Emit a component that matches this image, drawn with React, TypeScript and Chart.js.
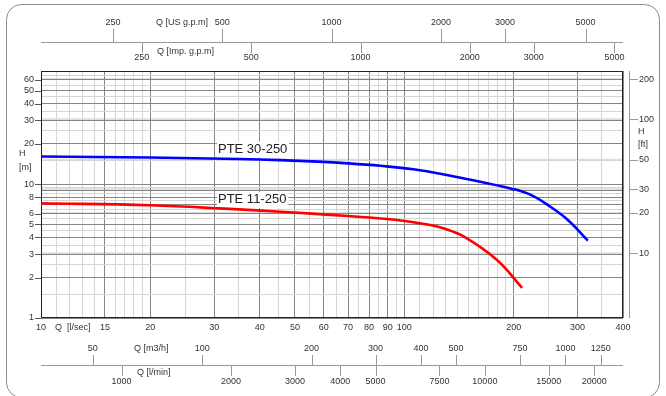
import React, { useEffect, useRef } from 'react';
import { Chart, registerables } from 'chart.js';
Chart.register(...registerables);

// ---- data (flow in l/s, head in m) ----
const seriesNames = ['PTE 30-250', 'PTE 11-250'];
const flowBlue = [10, 20, 35, 45.5, 58, 70, 86, 106, 131, 162, 200, 223, 248, 282, 320];
const headBlue = [16.1, 15.8, 15.4, 15.1, 14.72, 14.3, 13.7, 12.9, 11.7, 10.4, 9.17, 8.31, 7.0, 5.4, 3.78];
const flowRed = [10, 20, 33, 47, 62.5, 78, 95.5, 118, 128, 146, 180, 211];
const headRed = [7.2, 6.96, 6.53, 6.2, 5.89, 5.65, 5.4, 4.95, 4.68, 4.05, 2.71, 1.68];
const labelFlow = [30.7, 30.7];
const labelHead = [18.1, 7.63];

// ---- tick labels ----
const xTickLabels = [10, 15, 20, 30, 40, 50, 60, 70, 80, 90, 100, 200, 300, 400];
const yTickLabels = [1, 2, 3, 4, 5, 6, 8, 10, 20, 30, 40, 50, 60];
const ftTicks = [10, 20, 30, 50, 100, 200];
const usGpmTicks = [250, 500, 1000, 2000, 3000, 5000];
const impGpmTicks = [250, 500, 1000, 2000, 3000, 5000];
const m3hTicks = [50, 100, 200, 300, 400, 500, 750, 1000, 1250];
const lminTicks = [1000, 2000, 3000, 4000, 5000, 7500, 10000, 15000, 20000];

// grid values
const xGrid = [10, 11, 12, 13, 14, 15, 16, 17, 18, 19, 20, 25, 30, 35, 40, 45, 50, 55, 60, 65, 70, 75, 80, 85, 90, 95, 100,
  110, 120, 130, 140, 150, 160, 170, 180, 190, 200, 250, 300, 350, 400];
const xDark = [10, 15, 20, 30, 40, 50, 60, 70, 80, 90, 100, 200, 300, 400];
const yGrid = [1, 1.5, 2, 2.5, 3, 3.5, 4, 4.5, 5, 5.5, 6, 6.5, 7, 7.5, 8, 8.5, 9, 9.5, 10, 15, 20, 25, 30, 35, 40, 45, 50, 55, 60, 65, 70];
const yDark = [1, 2, 3, 4, 5, 6, 7, 8, 9, 10, 20, 30, 40, 50, 60, 70];

const US_GPM = 15.850;
const IMP_GPM = 13.198;
const M3H = 3.6;
const LMIN = 60;
const FT = 3.28084;

const FONT = '"Liberation Sans", Arial, sans-serif';
const TXT = '#333';

const overlay = {
  id: 'overlay',
  beforeDraw(chart: any) {
    const { ctx, chartArea: a, scales } = chart;
    const y = scales.y;
    ctx.save();
    ctx.strokeStyle = '#dedede';
    ctx.lineWidth = 2;
    ftTicks.forEach((f) => {
      const py = y.getPixelForValue(f / FT);
      ctx.beginPath();
      ctx.moveTo(a.left, py);
      ctx.lineTo(a.right, py);
      ctx.stroke();
    });
    ctx.restore();
  },
  beforeDatasetsDraw(chart: any) {
    const { ctx, chartArea: a, scales } = chart;
    const x = scales.x;
    const y = scales.y;
    ctx.save();
    const L = Math.round(a.left) + 0.5;
    const R = Math.round(a.right) - 0.5;
    const T = Math.round(a.top) + 0.5;
    const B = Math.round(a.bottom) - 0.5;

    // outer rounded frame (bottom edge falls just outside the picture)
    ctx.strokeStyle = '#8c8c8c';
    ctx.lineWidth = 1;
    ctx.beginPath();
    (ctx as any).roundRect(6.5, 4.5, 653, 393, 15);
    ctx.stroke();

    // plot border
    ctx.strokeStyle = '#222';
    ctx.lineWidth = 1;
    ctx.strokeRect(L, T, R - L, B - T);

    ctx.font = `9px ${FONT}`;
    ctx.fillStyle = TXT;
    ctx.textBaseline = 'middle';

    const vline = (px: number, y1: number, y2: number, color = '#777') => {
      ctx.strokeStyle = color;
      ctx.beginPath();
      ctx.moveTo(Math.round(px) + 0.5, y1);
      ctx.lineTo(Math.round(px) + 0.5, y2);
      ctx.stroke();
    };
    const hline = (py: number, x1: number, x2: number, color = '#777') => {
      ctx.strokeStyle = color;
      ctx.beginPath();
      ctx.moveTo(x1, Math.round(py) + 0.5);
      ctx.lineTo(x2, Math.round(py) + 0.5);
      ctx.stroke();
    };

    // bottom main labels
    ctx.textAlign = 'center';
    xTickLabels.forEach((v) => ctx.fillText(String(v), x.getPixelForValue(v), 328));
    ctx.textAlign = 'left';
    ctx.fillText('Q  [l/sec]', a.left + 14, 328);

    // left axis labels
    ctx.textAlign = 'right';
    yTickLabels.forEach((v) => {
      const py = y.getPixelForValue(v);
      ctx.fillText(String(v), a.left - 7, py);
      hline(py, a.left - 6, a.left, '#555');
    });
    ctx.textAlign = 'left';
    ctx.fillText('H', 19, 154);
    ctx.fillText('[m]', 19, 168);

    // right axis (ft)
    const rx = a.right + 6;
    vline(rx, a.top, a.bottom, '#999');
    ftTicks.forEach((f) => {
      const py = y.getPixelForValue(f / FT);
      hline(py, rx, rx + 9, '#999');
      ctx.fillText(String(f), rx + 10, py);
    });
    ctx.fillText('H', rx + 9, 132);
    ctx.fillText('[ft]', rx + 9, 145);

    // top axes
    const topY = 42;
    hline(topY - 0.5, a.left, a.right, '#999');
    ctx.textAlign = 'center';
    usGpmTicks.forEach((v) => {
      const px = x.getPixelForValue(v / US_GPM);
      vline(px, 29, topY, '#999');
      ctx.fillText(String(v), px, 23);
    });
    impGpmTicks.forEach((v) => {
      const px = x.getPixelForValue(v / IMP_GPM);
      vline(px, topY, 53, '#999');
      ctx.fillText(String(v), px, 58);
    });
    ctx.textAlign = 'left';
    ctx.fillText('Q [US g.p.m]', 156, 23);
    ctx.fillText('Q [Imp. g.p.m]', 157, 52);

    // bottom secondary axes
    const botY = 365;
    hline(botY - 0.5, a.left, a.right, '#999');
    ctx.textAlign = 'center';
    m3hTicks.forEach((v) => {
      const px = x.getPixelForValue(v / M3H);
      vline(px, 355, botY, '#999');
      ctx.fillText(String(v), px, 349);
    });
    lminTicks.forEach((v) => {
      const px = x.getPixelForValue(v / LMIN);
      vline(px, botY, 376, '#999');
      ctx.fillText(String(v), px, 382);
    });
    ctx.textAlign = 'left';
    ctx.fillText('Q [m3/h]', 134, 349);
    ctx.fillText('Q [l/min]', 137, 373);

    // series labels with white boxes
    ctx.font = `13px ${FONT}`;
    seriesNames.forEach((name, i) => {
      const px = x.getPixelForValue(labelFlow[i]);
      const py = y.getPixelForValue(labelHead[i]);
      const w = ctx.measureText(name).width;
      ctx.fillStyle = '#fff';
      ctx.fillRect(px - 1, py - 8, w + 3, 16);
      ctx.fillStyle = '#222';
      ctx.fillText(name, px, py);
    });
    ctx.restore();
  },
};

export default function App() {
  const ref = useRef<HTMLCanvasElement>(null);
  useEffect(() => {
    const canvas = ref.current!;
    const chart = new Chart(canvas, {
      type: 'scatter',
      data: {
        datasets: [
          {
            label: seriesNames[0],
            data: flowBlue.map((q, i) => ({ x: q, y: headBlue[i] })),
            showLine: true,
            borderColor: '#0000ff',
            backgroundColor: '#0000ff',
            borderWidth: 2.6,
            pointRadius: 0,
            tension: 0.4,
          },
          {
            label: seriesNames[1],
            data: flowRed.map((q, i) => ({ x: q, y: headRed[i] })),
            showLine: true,
            borderColor: '#ff0000',
            backgroundColor: '#ff0000',
            borderWidth: 2.6,
            pointRadius: 0,
            tension: 0.4,
          },
        ],
      },
      options: {
        responsive: false,
        devicePixelRatio: 1,
        animation: false,
        layout: { padding: { left: 41, right: 43, top: 71, bottom: 78 } },
        plugins: { legend: { display: false }, tooltip: { enabled: false } },
        scales: {
          x: {
            type: 'logarithmic',
            min: 10,
            max: 400,
            afterBuildTicks: (s: any) => {
              s.ticks = xGrid.map((v) => ({ value: v }));
            },
            ticks: { display: false },
            grid: {
              drawTicks: false,
              lineWidth: 1,
              color: (c: any) => (c.tick && xDark.includes(c.tick.value) ? '#858585' : '#d6d6d6'),
            },
            border: { display: false },
          },
          y: {
            type: 'logarithmic',
            min: 1,
            max: 70,
            afterBuildTicks: (s: any) => {
              s.ticks = yGrid.map((v) => ({ value: v }));
            },
            ticks: { display: false },
            grid: {
              drawTicks: false,
              lineWidth: 1,
              color: (c: any) => (c.tick && yDark.includes(c.tick.value) ? '#858585' : '#d6d6d6'),
            },
            border: { display: false },
          },
        },
      },
      plugins: [overlay],
    } as any);
    return () => chart.destroy();
  }, []);
  return (
    <div style={{ position: 'fixed', left: 0, top: 0, width: 666, height: 396, background: '#fff' }}>
      <canvas ref={ref} width={666} height={396} style={{ display: 'block', width: 666, height: 396 }} />
    </div>
  );
}
